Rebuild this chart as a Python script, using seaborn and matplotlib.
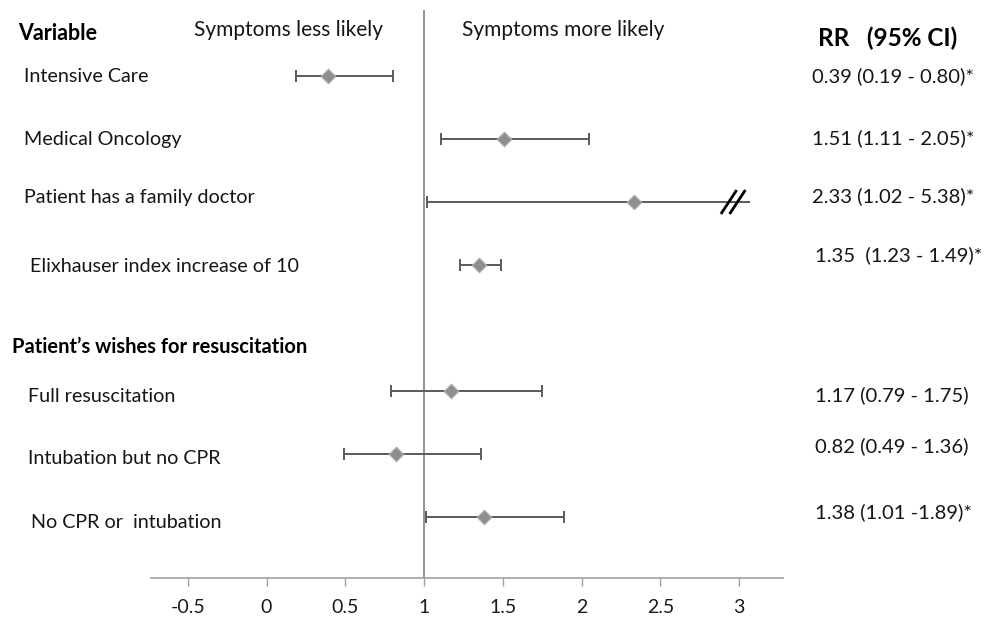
import matplotlib
matplotlib.use("Agg")
import matplotlib.pyplot as plt
import seaborn as sns
import numpy as np
import pandas as pd

# ---- data ----
variables = ["Intensive Care", "Medical Oncology", "Patient has a family doctor",
             "Elixhauser index increase of 10", "Full resuscitation",
             "Intubation but no CPR", "No CPR or  intubation"]
rr = [0.39, 1.51, 2.33, 1.35, 1.17, 0.82, 1.38]
ci_low = [0.19, 1.11, 1.02, 1.23, 0.79, 0.49, 1.01]
ci_high = [0.80, 2.05, 5.38, 1.49, 1.75, 1.36, 1.89]
rr_labels = ["0.39 (0.19 - 0.80)*", "1.51 (1.11 - 2.05)*", "2.33 (1.02 - 5.38)*",
             "1.35  (1.23 - 1.49)*", "1.17 (0.79 - 1.75)", "0.82 (0.49 - 1.36)",
             "1.38 (1.01 -1.89)*"]
x_ticks = [-0.5, 0, 0.5, 1, 1.5, 2, 2.5, 3]
x_tick_labels = ["-0.5", "0", "0.5", "1", "1.5", "2", "2.5", "3"]
section_header = "Patient\u2019s wishes for resuscitation"

# ---- layout (positions/styles) ----
row_pos = [0, 1, 2, 3, 5, 6, 7]
axis_cut = 3.07          # where the truncated CI line is drawn to
W, H = 989, 621
FONT = "Lato"

sns.set_theme(style="white")
plt.rcParams["font.family"] = [FONT, "DejaVu Sans"]

df = pd.DataFrame({"variable": variables, "rr": rr, "lo": ci_low, "hi": ci_high,
                   "row": row_pos})
df["hi_draw"] = np.minimum(df["hi"], axis_cut)

fig = plt.figure(figsize=(W / 100, H / 100), dpi=100)
ax = fig.add_axes([150.6 / W, 1 - 578 / H, (782.5 - 150.6) / W, (578 - 10) / H])

line_col = "#5a5a5a"
ax.hlines(df["row"], df["lo"], df["hi_draw"], color=line_col, lw=1.4, zorder=2)
# caps (not on truncated ends)
ax.plot(df["lo"], df["row"], ls="none", marker="|", ms=8, mew=1.4, color=line_col, zorder=2)
capped = df[df["hi"] <= axis_cut]
ax.plot(capped["hi"], capped["row"], ls="none", marker="|", ms=8, mew=1.4, color=line_col, zorder=2)

sns.scatterplot(data=df, x="rr", y="row", marker="D", s=55, color="#8e8e8e",
                edgecolor="#b0b0b0", linewidth=0.8, ax=ax, zorder=3, legend=False)

# break symbol on truncated CI
for _, r in df[df["hi"] > axis_cut].iterrows():
    for cx in (2.935, 2.99):
        ax.plot([cx - 0.05, cx + 0.05], [r["row"] + 0.19, r["row"] - 0.19],
                color="black", lw=2.0, solid_capstyle="butt", zorder=4)

ax.axvline(1, color="#8a8a8a", lw=1.3, zorder=1)

ax.set_xlim(-0.736, 3.276)
ax.set_ylim(7.968, -1.048)
ax.set_xticks(x_ticks)
ax.set_xticklabels(x_tick_labels, fontsize=14, color="#1a1a1a")
ax.set_yticks([])
ax.set_xlabel("")
ax.set_ylabel("")
for s in ["top", "left", "right"]:
    ax.spines[s].set_visible(False)
ax.spines["bottom"].set_color("#a0a0a0")
ax.spines["bottom"].set_linewidth(1.2)
ax.tick_params(axis="x", direction="out", length=6, width=1, color="#a0a0a0", pad=9,
               bottom=True)
ax.patch.set_alpha(0)

TXT = "#161616"


def ftxt(px, py, s, **kw):
    fig.text(px / W, 1 - py / H, s, va="center", **kw)


# headers
ftxt(18, 33, "Variable", fontsize=15.5, fontweight="bold", color="#000000")
ftxt(288, 30, "Symptoms less likely", fontsize=15, ha="center", color=TXT)
ftxt(563, 30, "Symptoms more likely", fontsize=15, ha="center", color=TXT)
ftxt(818, 38, "RR   (95% CI)", fontsize=17.5, fontweight="bold", color="#000000")
ftxt(12, 347, section_header, fontsize=14.5, fontweight="bold", color="#000000")

label_x = [24, 24, 24, 30, 28, 28, 31]
label_y = [77, 140, 198, 267, 396, 458, 522]
for lx, ly, t in zip(label_x, label_y, variables):
    ftxt(lx, ly, t, fontsize=14.2, color=TXT)

rr_x = [812, 812, 812, 815, 815, 815, 815]
rr_y = [76, 138, 196, 255, 395, 446, 512]
for lx, ly, t in zip(rr_x, rr_y, rr_labels):
    ftxt(lx, ly, t, fontsize=14.6, color=TXT)

fig.savefig("out.png", dpi=100, facecolor="white")
